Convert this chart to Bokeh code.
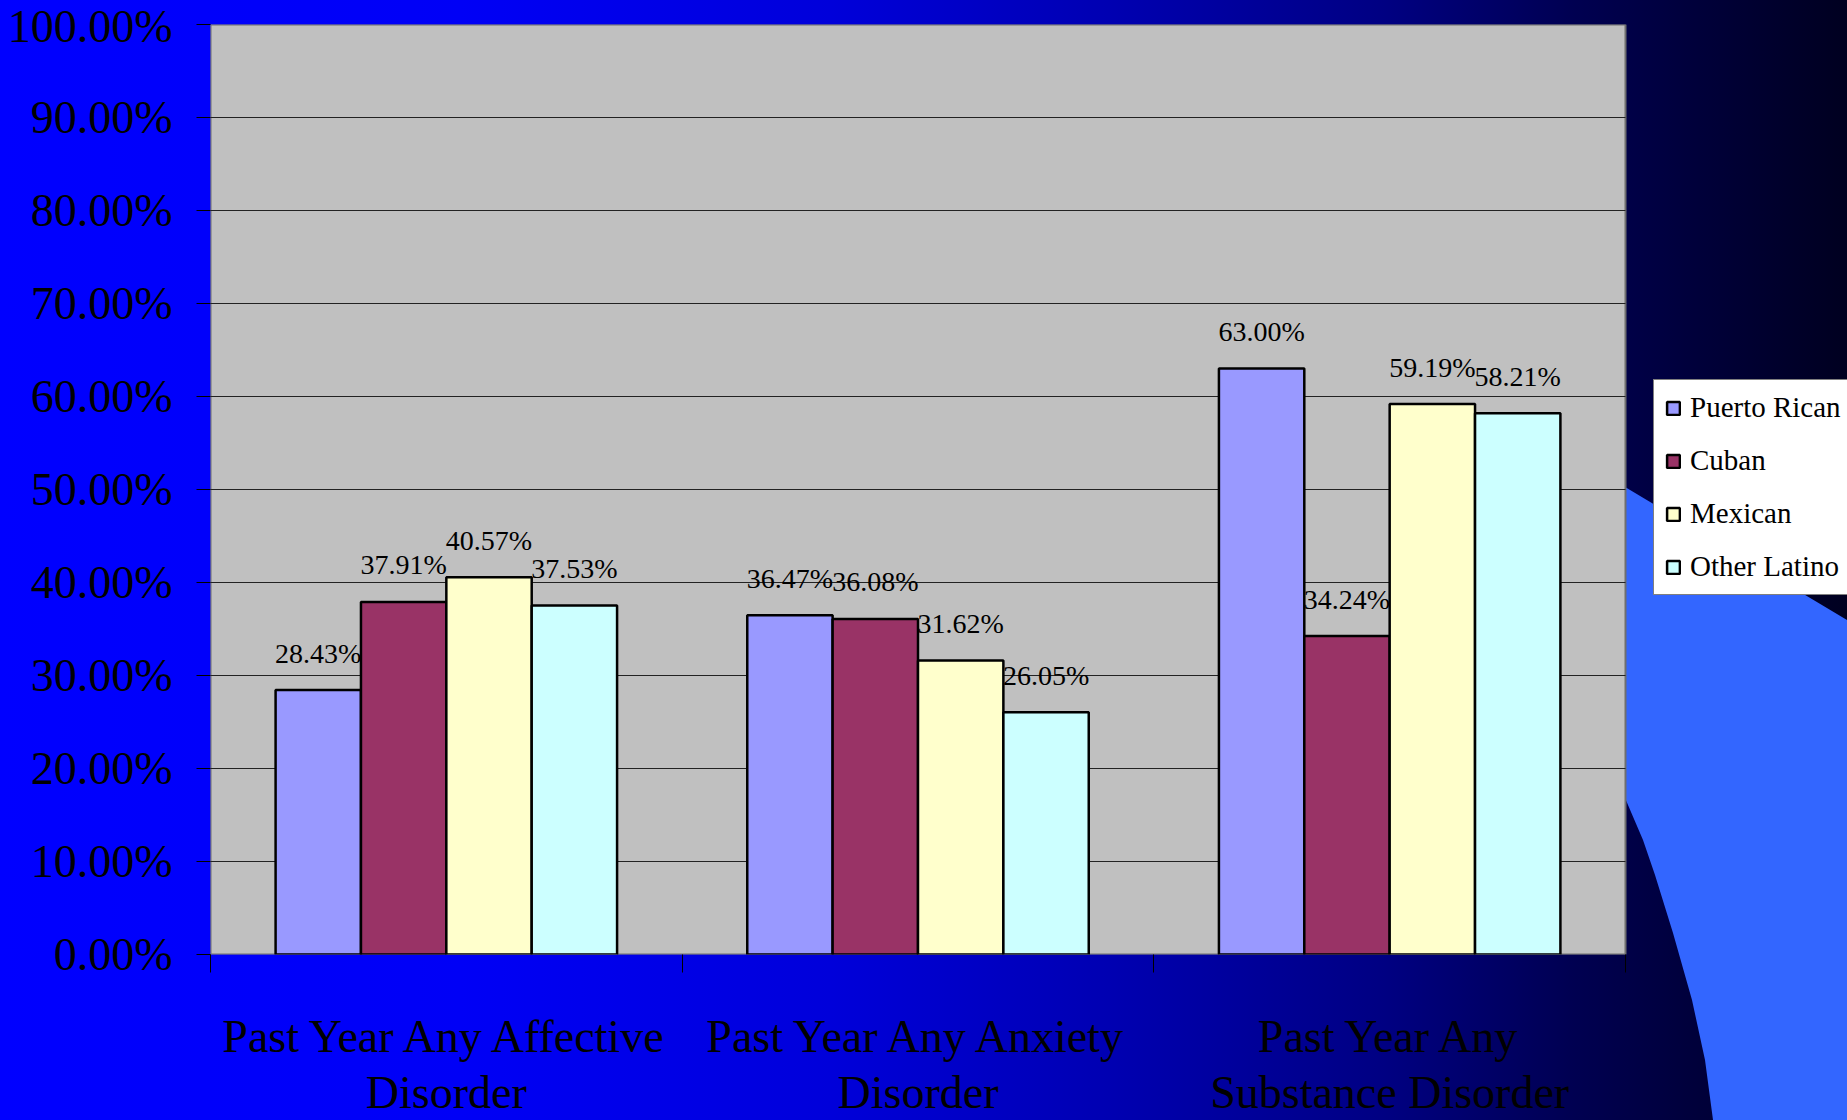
from bokeh.plotting import figure
from bokeh.models import (Range1d, FixedTicker, NumeralTickFormatter, ColumnDataSource,
                          Legend, LegendItem)
from bokeh.embed import file_html
from bokeh.resources import INLINE

# Disorder prevalence by Latino subgroup (percent)
categories = ["Past Year Any Affective\nDisorder",
              "Past Year Any Anxiety\nDisorder",
              "Past Year Any\nSubstance Disorder"]
groups = ["Puerto Rican", "Cuban", "Mexican", "Other Latino"]
puerto_rican = [28.43, 36.47, 63.00]
cuban = [37.91, 36.08, 34.24]
mexican = [40.57, 31.62, 59.19]
other_latino = [37.53, 26.05, 58.21]
y_ticks = [0, 10, 20, 30, 40, 50, 60, 70, 80, 90, 100]

series = [puerto_rican, cuban, mexican, other_latino]
colors = ["#9999FF", "#993366", "#FFFFCC", "#CCFFFF"]

FONT = "Liberation Serif"
W, H = 1847, 1120
LEFT, RIGHT_EDGE, TOP, BOTTOM = 210, 1625, 24, 954   # plot box in page pixels

# page backdrop: dark-fading blue with a lighter wedge on the right
wedge_pts = [(1480, 400), (1847, 620), (1847, 1120), (1713, 1120), (1705, 1060),
             (1692, 1000), (1673, 933), (1655, 875), (1643, 840), (1625, 798),
             (1600, 750), (1550, 680), (1480, 600)]
wedge_d = "M" + " L".join(f"{x} {y}" for x, y in wedge_pts) + " Z"
wedge = ("data:image/svg+xml;utf8,"
         "<svg xmlns='http://www.w3.org/2000/svg' width='1847' height='1120'>"
         f"<path fill='%233366ff' d='{wedge_d}'/></svg>")
backdrop = ("url(\"" + wedge + "\") no-repeat, "
            "linear-gradient(to right, #0000ff 0%, #0000f6 25%, #0000da 45%, "
            "#0000b2 60%, #000082 75%, #000052 85%, #00003a 92%, #000020 100%)")

# the frame runs to the right page edge so the legend can sit beside the plot box;
# the three category slots occupy x in [0, 3]
n_cat = len(categories)
x_end = n_cat * (W - LEFT) / (RIGHT_EDGE - LEFT)

p = figure(width=W, height=H, output_backend="svg", toolbar_location=None,
           x_range=Range1d(0, x_end), y_range=Range1d(0, 1),
           min_border_left=LEFT, min_border_right=0,
           min_border_top=TOP, min_border_bottom=H - BOTTOM,
           background_fill_color=None, border_fill_color=None,
           outline_line_color=None,
           styles={"background": backdrop})

# grey plot box and its horizontal gridlines
p.quad(left=0, right=n_cat, bottom=0, top=1, fill_color="#C0C0C0",
       line_color="#6f6f6f", line_width=2, level="image")
grid_y = [t / 100 for t in y_ticks[1:-1]]
p.segment(x0=[0] * len(grid_y), x1=[n_cat] * len(grid_y), y0=grid_y, y1=grid_y,
          line_color="#222222", line_width=1, level="image")

bar_w = 0.181
offsets = [-1.5 * bar_w, -0.5 * bar_w, 0.5 * bar_w, 1.5 * bar_w]
centers = [i + 0.5 for i in range(n_cat)]

items = []
for name, vals, col, off in zip(groups, series, colors, offsets):
    src = ColumnDataSource(dict(
        x=[c + off for c in centers],
        top=[v / 100 for v in vals],
        label=[f"{v:.2f}%" for v in vals],
    ))
    r = p.vbar(x="x", top="top", bottom=0, width=bar_w, source=src,
               fill_color=col, line_color="black", line_width=2.5)
    p.text(x="x", y="top", text="label", source=src, y_offset=-37,
           text_align="center", text_baseline="alphabetic",
           text_font=FONT, text_font_size="28px", text_color="black")
    items.append(LegendItem(label=name, renderers=[r]))

# y axis
p.yaxis.ticker = FixedTicker(ticks=[t / 100 for t in y_ticks])
p.yaxis.formatter = NumeralTickFormatter(format="0.00%")
p.yaxis.major_label_text_font = FONT
p.yaxis.major_label_text_font_size = "46px"
p.yaxis.major_label_text_color = "black"
p.yaxis.major_tick_out = 14
p.yaxis.major_tick_in = 0
p.yaxis.major_tick_line_color = "black"
p.yaxis.minor_tick_line_color = None
p.yaxis.axis_line_color = None
p.yaxis.major_label_standoff = 24

# x axis: names centred on each group, ticks on group boundaries
p.xaxis.ticker = FixedTicker(ticks=centers, minor_ticks=list(range(n_cat + 1)))
p.xaxis.major_label_overrides = {c: lab for c, lab in zip(centers, categories)}
p.xaxis.major_label_text_font = FONT
p.xaxis.major_label_text_font_size = "46px"
p.xaxis.major_label_text_color = "black"
p.xaxis.major_label_text_line_height = 1.1
p.xaxis.major_label_text_align = "center"
p.xaxis.major_tick_line_color = None
p.xaxis.minor_tick_out = 18
p.xaxis.minor_tick_in = 0
p.xaxis.minor_tick_line_color = "black"
p.xaxis.axis_line_color = None
p.xaxis.major_label_standoff = 38

p.xgrid.grid_line_color = None
p.ygrid.grid_line_color = None

legend = Legend(items=items, location=(1443, BOTTOM - 595),
                label_text_font=FONT, label_text_font_size="29px",
                label_text_color="black", label_height=30, label_standoff=9,
                glyph_width=16, glyph_height=16, spacing=20, padding=11,
                margin=0, border_line_color="black", border_line_width=1,
                background_fill_color="white", background_fill_alpha=1)
p.add_layout(legend)

open("out.html", "w").write(file_html(p, INLINE))
